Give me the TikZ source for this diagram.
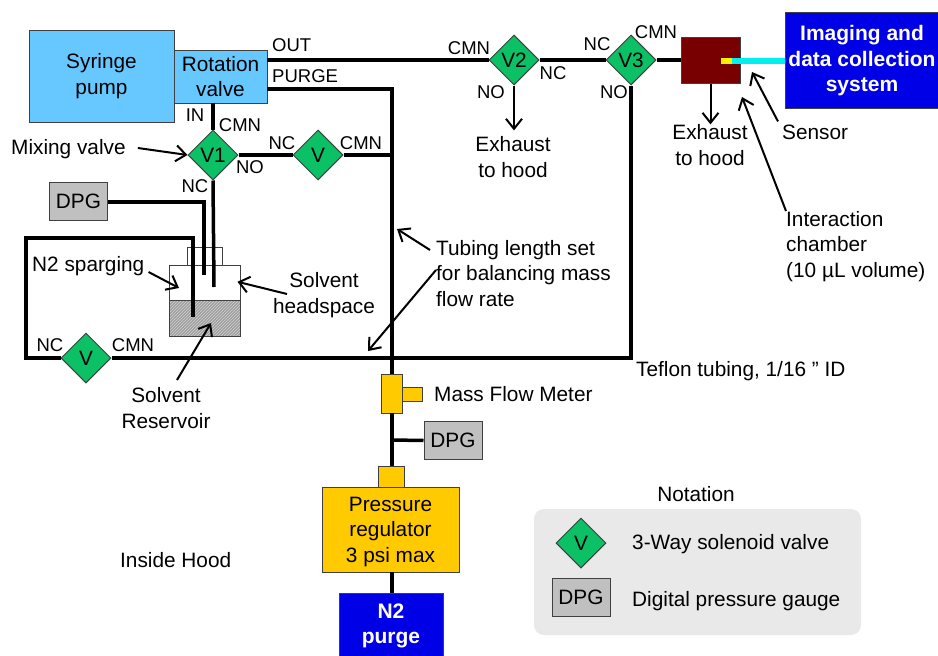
\documentclass[tikz,border=0pt]{standalone}
\usepackage{fontspec}
\setmainfont{Liberation Sans}
\usetikzlibrary{shapes.geometric,arrows.meta,patterns}
\definecolor{pumpblue}{HTML}{66C8FF}
\definecolor{sysblue}{HTML}{0000E6}
\definecolor{valvegreen}{HTML}{0CC066}
\definecolor{chamberred}{HTML}{780000}
\definecolor{amber}{HTML}{FFCA00}
\definecolor{gaugegray}{HTML}{C0C0C0}
\definecolor{panelgray}{HTML}{E9E9E9}
\definecolor{edgegray}{HTML}{404040}
\definecolor{sensorcyan}{HTML}{00F0F0}
\definecolor{spotyellow}{HTML}{FFF000}
\begin{document}
\begin{tikzpicture}[x=1pt,y=-1pt]
    \tikzstyle{txt} = [inner sep=0pt, align=center, font=\fontsize{20.8}{25.5}\selectfont]
    \tikzstyle{lbl} = [inner sep=0pt, font=\fontsize{18.5}{20}\selectfont]
    \tikzstyle{box} = [draw=edgegray, shape=rectangle, inner sep=0pt, line width=1pt, align=center, font=\fontsize{20.8}{25.5}\selectfont]
    \tikzstyle{whitebox} = [box, fill=sysblue, text=white, font=\fontsize{21}{25.5}\selectfont\bfseries]
    \tikzstyle{valve} = [draw=edgegray, fill=valvegreen, shape=diamond, aspect=1, inner sep=0pt, minimum width=50pt, minimum height=50pt, line width=1pt, font=\fontsize{20.8}{25.5}\selectfont]
    \tikzstyle{gauge} = [box, fill=gaugegray, minimum width=58pt, minimum height=38pt]
    \tikzstyle{tube} = [line width=3.5pt]
    \tikzstyle{pointer} = [line width=2pt, -{Straight Barb[length=10pt,width=16pt,line width=2pt]}]
    \useasboundingbox (0,0) rectangle (938,656);

    \node [draw=none, fill=panelgray, rounded corners=10pt, minimum width=327pt, minimum height=126pt, inner sep=0pt] at (697.5,572) (panel) {};
    \node [box, fill=pumpblue, minimum width=145pt, minimum height=92pt] at (101.5,76) (pump) {\raisebox{-1pt}{Syringe}\\\raisebox{-1pt}{pump}};
    \node [box, fill=pumpblue, minimum width=93pt, minimum height=53pt] at (220.5,76.5) (rot) {Rotation\\valve};
    \node [valve] at (213,155) (v1) {V1};
    \node [valve] at (318,155) (vmix) {V};
    \node [valve] at (514,60) (v2) {V2};
    \node [valve] at (631,60) (v3) {V3};
    \node [valve] at (86,358) (vn) {V};
    \node [gauge] at (78.5,201) (dpga) {DPG};
    \node [box, fill=chamberred, minimum width=59pt, minimum height=46pt] at (710.5,60) (chamber) {};
    \node [box, fill=sysblue, minimum width=153pt, minimum height=96pt] at (861.5,60) (imgsys) {};
    \node [whitebox, draw=none, fill=none] at (862,61) (imgtxt) {Imaging and\\data collection\\system};
    \node [draw=none, fill=sensorcyan, minimum width=53pt, minimum height=6pt, inner sep=0pt] at (758.5,61) (sensor) {};
    \node [draw=none, fill=spotyellow, minimum width=11pt, minimum height=6pt, inner sep=0pt] at (726.5,61) (spot) {};

    \node [draw=edgegray, fill=white, line width=0.8pt, minimum width=35pt, minimum height=18pt, inner sep=0pt] at (204.5,256) (neck) {};
    \node [draw=edgegray, fill=white, line width=0.8pt, minimum width=71pt, minimum height=35pt, inner sep=0pt] at (204.5,282.5) (head) {};
    \node [draw=edgegray, line width=0.8pt, preaction={fill=gray!75}, pattern=north east lines, pattern color=gray!35, minimum width=71pt, minimum height=36pt, inner sep=0pt] at (204.5,318) (liquid) {};

    \node [box, fill=amber, minimum width=21pt, minimum height=39pt] at (391.5,393.5) (mfm) {};
    \node [box, fill=amber, minimum width=20pt, minimum height=14pt] at (412,394) (mfmside) {};
    \node [gauge] at (453,440.5) (dpgb) {DPG};
    \node [box, fill=amber, minimum width=26pt, minimum height=21pt] at (391,476.5) (regtop) {};
    \node [box, fill=amber, minimum width=137pt, minimum height=85pt, text depth=0pt] at (390.5,529.5) (reg) {\rule{0pt}{6pt}Pressure\\regulator\\3 psi max};
    \node [whitebox, minimum width=104pt, minimum height=65pt] at (391,626) (purge) {\rule{0pt}{6pt}N2\\purge};
    \node [valve] at (581,543) (vkey) {V};
    \node [gauge] at (581,597.5) (dpgkey) {DPG};

    \node [lbl, anchor=west] at (272,45) (out) {OUT};
    \node [lbl, anchor=west] at (272,76) (prg) {PURGE};
    \node [lbl] at (195,115) (inlbl) {IN};
    \node [lbl] at (240,125) (cmna) {CMN};
    \node [lbl] at (282,143) (nca) {NC};
    \node [lbl] at (361,143) (cmnb) {CMN};
    \node [lbl] at (250,167) (noa) {NO};
    \node [lbl] at (195,186) (ncb) {NC};
    \node [lbl] at (469,48) (cmnc) {CMN};
    \node [lbl] at (553,73) (ncc) {NC};
    \node [lbl] at (491,92) (nob) {NO};
    \node [lbl] at (597,44) (ncd) {NC};
    \node [lbl] at (656,32) (cmnd) {CMN};
    \node [lbl] at (614,92) (noc) {NO};
    \node [lbl] at (50,345) (nce) {NC};
    \node [lbl] at (133,345) (cmne) {CMN};

    \node [txt, anchor=west] at (11,149) (mixing) {Mixing valve};
    \node [txt, anchor=west] at (32,266) (spargelbl) {N2 sparging};
    \node [txt] at (324,295) (headlbl) {Solvent\\headspace};
    \node [txt] at (166,408) (reslbl) {Solvent\\Reservoir};
    \node [txt] at (513,157) (exha) {Exhaust\\to hood};
    \node [txt] at (710,145) (exhb) {Exhaust\\to hood};
    \node [txt, anchor=west] at (782,132) (senslbl) {Sensor};
    \node [txt, align=left, anchor=north west] at (786,211) (interlbl) {Interaction\\chamber\\(10 µL volume)};
    \node [txt, align=left, anchor=north west] at (436,240) (tubelbl) {Tubing length set\\for balancing mass\\flow rate};
    \node [txt, anchor=west] at (636,371) (teflon) {Teflon tubing, 1/16 '' ID};
    \node [txt, anchor=west] at (434,394) (mfmlbl) {Mass Flow Meter};
    \node [txt, anchor=west] at (120,560) (hood) {Inside Hood};
    \node [txt] at (696,494) (notation) {Notation};
    \node [txt, anchor=west] at (632,544) (keyv) {3-Way solenoid valve};
    \node [txt, anchor=west] at (632,601) (keyd) {Digital pressure gauge};

    \coordinate (rotout) at (267,60);
    \coordinate (rotpurge) at (267,89);
    \coordinate (rotin) at (213,103);
    \coordinate (jmix) at (392,155);
    \coordinate (jgauge) at (392,440);
    \coordinate (mfmtop) at (392,374);
    \coordinate (mfmbot) at (392,413);
    \coordinate (regin) at (392,466);
    \coordinate (regout) at (392,572);
    \coordinate (purgein) at (392,593);
    \coordinate (dpgend) at (204,275);
    \coordinate (dipend) at (214,287);
    \coordinate (spargetop) at (26,238);
    \coordinate (spargeend) at (193,317);
    \coordinate (v3foot) at (631,358);
    \coordinate (chamberin) at (681,60);

    \begin{scope}[tube]
    \draw (rotout) -- (v2.west);
    \draw (v2.east) -- (v3.west);
    \draw (v3.east) -- (chamberin);
    \draw (rotpurge) -| (mfmtop);
    \draw (rotin) -- (v1.north);
    \draw (v1.east) -- (vmix.west);
    \draw (vmix.east) -- (jmix);
    \draw (v1.south) -- (dipend);
    \draw (dpga.east |- 0,202) -| (dpgend);
    \draw (vn.west) -| (spargetop) -| (spargeend);
    \draw (vn.east) -- (v3foot) -- (v3.south);
    \draw (mfmbot) -- (regin);
    \draw (jgauge) -- (dpgb.west);
    \draw (regout) -- (purgein);
    \end{scope}

    \begin{scope}[pointer]
    \draw (mixing.east) ++(12,-1) -- (v1.west);
    \draw [shorten >=6pt] (v2.south) -- (v2.south |- exha.north);
    \draw (chamber.south) -- (chamber.south |- exhb.north);
    \draw (senslbl.north west) ++(-4,-3) -- (752,72);
    \draw (interlbl.north west) -- (742,97);
    \draw (430,250) -- (397,229);
    \draw (436,270) -- (368,351);
    \draw (spargelbl.east) ++(4,6) -- (179,288);
    \draw [shorten >=-3pt] (287,294) -- (head.east);
    \draw (177,380) -- (211,323);
    \end{scope}
\end{tikzpicture}
\end{document}
